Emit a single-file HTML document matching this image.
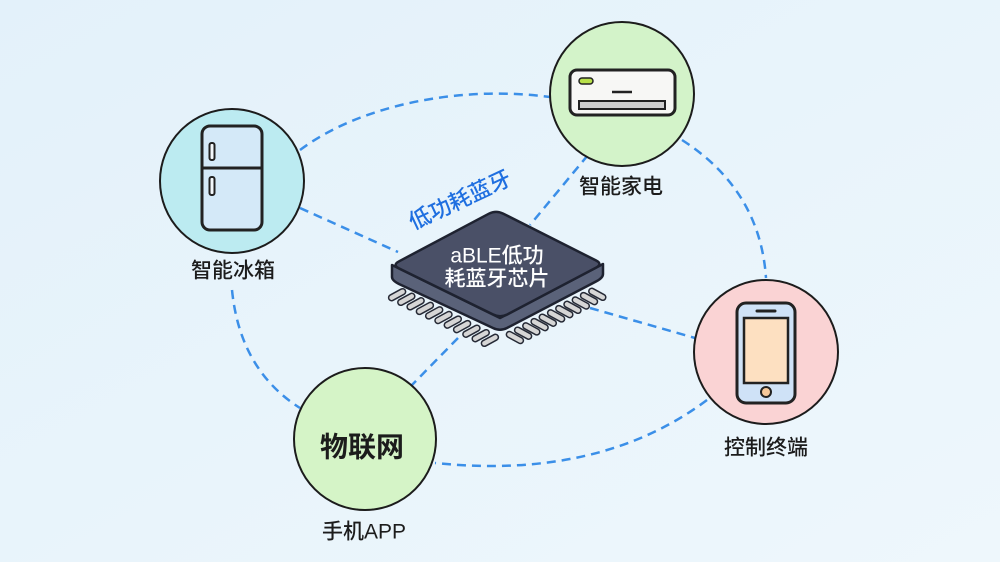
<!DOCTYPE html>
<html>
<head>
<meta charset="utf-8">
<style>
  html,body{margin:0;padding:0;}
  body{width:1000px;height:562px;overflow:hidden;}
  svg{display:block;}
  .lbl{font-family:"Liberation Sans","Noto Sans CJK SC",sans-serif;font-size:21px;fill:#1c1c1c;font-weight:500;}
</style>
</head>
<body>
<svg width="1000" height="562" viewBox="0 0 1000 562" xmlns="http://www.w3.org/2000/svg" xmlns:xlink="http://www.w3.org/1999/xlink">
  <defs>
    <linearGradient id="bg" x1="0" y1="0" x2="1" y2="1">
      <stop offset="0" stop-color="#e3f1fa"/>
      <stop offset="1" stop-color="#eef7fc"/>
    </linearGradient>
    <g id="pins">
      <line x1="402.6" y1="291.7" x2="391.6" y2="297.7"/>
      <line x1="411.8" y1="296.3" x2="400.8" y2="302.3"/>
      <line x1="421.1" y1="300.8" x2="410.1" y2="306.8"/>
      <line x1="430.4" y1="305.4" x2="419.4" y2="311.4"/>
      <line x1="439.7" y1="309.9" x2="428.7" y2="315.9"/>
      <line x1="449" y1="314.5" x2="438" y2="320.5"/>
      <line x1="458.3" y1="319.1" x2="447.3" y2="325.1"/>
      <line x1="467.6" y1="323.6" x2="456.6" y2="329.6"/>
      <line x1="476.9" y1="328.2" x2="465.9" y2="334.2"/>
      <line x1="486.2" y1="332.7" x2="475.2" y2="338.7"/>
      <line x1="495.4" y1="337.3" x2="484.4" y2="343.3"/>

      <line x1="509.4" y1="334.5" x2="520.4" y2="340.5"/>
      <line x1="517.6" y1="330.2" x2="528.6" y2="336.2"/>
      <line x1="525.8" y1="325.9" x2="536.8" y2="331.9"/>
      <line x1="534.1" y1="321.6" x2="545.1" y2="327.6"/>
      <line x1="542.3" y1="317.2" x2="553.3" y2="323.2"/>
      <line x1="550.6" y1="312.9" x2="561.6" y2="318.9"/>
      <line x1="558.8" y1="308.6" x2="569.8" y2="314.6"/>
      <line x1="567" y1="304.3" x2="578" y2="310.3"/>
      <line x1="575.3" y1="300" x2="586.3" y2="306"/>
      <line x1="583.5" y1="295.6" x2="594.5" y2="301.6"/>
      <line x1="591.8" y1="291.3" x2="602.8" y2="297.3"/>
    </g>
  </defs>
  <rect x="0" y="0" width="1000" height="562" fill="url(#bg)"/>

  <!-- dashed connectors -->
  <g fill="none" stroke="#3b8fe8" stroke-width="2.5" stroke-dasharray="9 6">
    <path d="M300,150 C360,105 460,85 550,97"/>
    <path d="M682,140 Q760,190 766,278"/>
    <path d="M707,400 Q600,480 435,463"/>
    <path d="M232,290 Q240,370 300,408"/>
    <path d="M300,208 L398,252"/>
    <path d="M588,155 L530,225"/>
    <path d="M590,308 L695,338"/>
    <path d="M458,338 L410,387"/>
  </g>

  <!-- circles -->
  <circle cx="232" cy="181" r="72" fill="#bcebf1" stroke="#1c1c1c" stroke-width="2"/>
  <circle cx="622" cy="94" r="72" fill="#d3f3c9" stroke="#1c1c1c" stroke-width="2"/>
  <circle cx="766" cy="352" r="72" fill="#fad3d4" stroke="#1c1c1c" stroke-width="2"/>
  <circle cx="365" cy="439" r="71" fill="#d5f4c7" stroke="#1c1c1c" stroke-width="2"/>

  <!-- fridge -->
  <rect x="202" y="126" width="60" height="104" rx="8" fill="#d4e9f8" stroke="#222" stroke-width="3"/>
  <line x1="202" y1="168" x2="262" y2="168" stroke="#222" stroke-width="3"/>
  <rect x="209.5" y="143" width="5" height="17" rx="2" fill="#f4f8fb" stroke="#222" stroke-width="2"/>
  <rect x="209.5" y="177" width="5" height="18" rx="2" fill="#f4f8fb" stroke="#222" stroke-width="2"/>

  <!-- AC -->
  <rect x="570" y="70" width="105" height="45" rx="7" fill="#f7f7f5" stroke="#222" stroke-width="3"/>
  <rect x="579" y="101" width="86" height="8" fill="#cfcfcf" stroke="#222" stroke-width="2"/>
  <rect x="579" y="78" width="14" height="6" rx="3" fill="#b8e04a" stroke="#222" stroke-width="1.5"/>
  <line x1="612" y1="92" x2="632" y2="92" stroke="#222" stroke-width="2.5"/>

  <!-- phone -->
  <rect x="737" y="303" width="58" height="100" rx="9" fill="#cfe2f7" stroke="#222" stroke-width="3"/>
  <rect x="744" y="318" width="44" height="65" fill="#fde0c1" stroke="#222" stroke-width="2.5"/>
  <line x1="757" y1="311" x2="775" y2="311" stroke="#222" stroke-width="3" stroke-linecap="round"/>
  <circle cx="766" cy="392" r="5" fill="#f6c89a" stroke="#222" stroke-width="2"/>

  <!-- chip pins -->
  <use href="#pins" xlink:href="#pins" stroke="#262a36" stroke-width="7.5" stroke-linecap="round"/>
  <use href="#pins" xlink:href="#pins" stroke="#d6d6d6" stroke-width="4.5" stroke-linecap="round"/>

  <!-- chip body -->
  <path d="M392,265 L392,277 Q392,280.5 399,284 L493,328 Q500,331.5 507,328 L596,281.5 Q603,278 603,274 L603,264 L500,318 Z" fill="#5a6279" stroke="#1e2230" stroke-width="2.5" stroke-linejoin="round"/>
  <path d="M399.1,261.3 L488.9,213.7 Q496,210 503.1,213.6 L595.9,260.4 Q603,264 595.9,267.7 L507.2,314.5 Q500,318 492.9,314.4 L399.2,268.5 Q392,265 399.1,261.3 Z" fill="#4a5067" stroke="#1e2230" stroke-width="2.5" stroke-linejoin="round"/>

  <text x="497" y="256" text-anchor="middle" dominant-baseline="central" font-family="'Liberation Sans','Noto Sans CJK SC',sans-serif" font-size="21" font-weight="500" fill="#ffffff">aBLE低功</text>
  <text x="497" y="279" text-anchor="middle" dominant-baseline="central" font-family="'Liberation Sans','Noto Sans CJK SC',sans-serif" font-size="21" font-weight="500" fill="#ffffff">耗蓝牙芯片</text>

  <!-- blue label -->
  <text x="460" y="200" text-anchor="middle" dominant-baseline="central" transform="rotate(-25 460 200)" font-family="'Liberation Sans','Noto Sans CJK SC',sans-serif" font-size="22" font-weight="500" fill="#1f6fe0">低功耗蓝牙</text>

  <!-- labels -->
  <text class="lbl" x="233" y="271" text-anchor="middle" dominant-baseline="central">智能冰箱</text>
  <text class="lbl" x="621" y="187" text-anchor="middle" dominant-baseline="central">智能家电</text>
  <text class="lbl" x="766" y="448" text-anchor="middle" dominant-baseline="central">控制终端</text>
  <text class="lbl" x="364" y="532" text-anchor="middle" dominant-baseline="central">手机APP</text>
  <text x="362" y="447" text-anchor="middle" dominant-baseline="central" font-family="'Liberation Sans','Noto Sans CJK SC',sans-serif" font-size="28" font-weight="bold" fill="#1c1c1c">物联网</text>
</svg>
</body>
</html>
